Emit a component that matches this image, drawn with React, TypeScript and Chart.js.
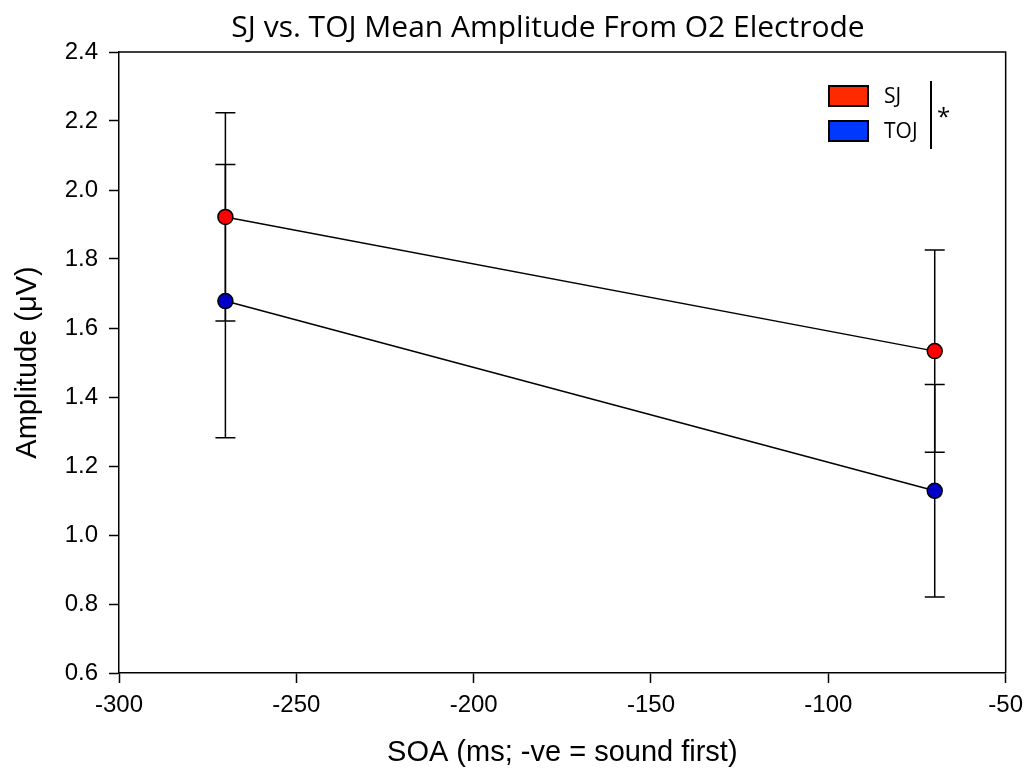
import React, { useEffect, useRef } from "react";
import { Chart, registerables } from "chart.js";

Chart.register(...registerables);

const chartTitle = "SJ vs. TOJ Mean Amplitude From O2 Electrode";
const xTitle = "SOA (ms; -ve = sound first)";
const yTitle = "Amplitude (\u03bcV)";
const seriesNames = ["SJ", "TOJ"];
const soa = [-270, -70];
const sjMean = [1.922, 1.533];
const sjErr = [0.302, 0.293];
const tojMean = [1.678, 1.128];
const tojErr = [0.396, 0.308];
const xTicks = [-300, -250, -200, -150, -100, -50];
const yTicks = [0.6, 0.8, 1.0, 1.2, 1.4, 1.6, 1.8, 2.0, 2.2, 2.4];
const significance = "*";

const markerColors = ["#ff0000", "#0000c8"];
const legendColors = ["#ff2a00", "#0038ff"];
const errors = [sjErr, tojErr];

const TITLE_FONT = "'Open Sans', 'Noto Sans', sans-serif";
const AXIS_FONT = "'Liberation Sans', Arial, sans-serif";

const errorBarPlugin = {
  id: "errorBars",
  beforeDatasetsDraw(chart: any) {
    const { ctx, scales } = chart;
    const xs = scales.x;
    const ys = scales.y;
    ctx.save();
    ctx.strokeStyle = "#000";
    ctx.lineWidth = 1.5;
    chart.data.datasets.forEach((ds: any, i: number) => {
      const err = errors[i];
      ds.data.forEach((p: any, j: number) => {
        const px = xs.getPixelForValue(p.x);
        const top = ys.getPixelForValue(p.y + err[j]);
        const bot = ys.getPixelForValue(p.y - err[j]);
        ctx.beginPath();
        ctx.moveTo(px, top);
        ctx.lineTo(px, bot);
        ctx.moveTo(px - 10, top);
        ctx.lineTo(px + 10, top);
        ctx.moveTo(px - 10, bot);
        ctx.lineTo(px + 10, bot);
        ctx.stroke();
      });
    });
    ctx.restore();
  },
};

const framePlugin = {
  id: "frameAndDecor",
  afterDraw(chart: any) {
    const { ctx, chartArea } = chart;
    const { left, right, top, bottom } = chartArea;
    ctx.save();
    ctx.strokeStyle = "#000";
    ctx.lineWidth = 1.5;
    ctx.beginPath();
    ctx.moveTo(left, top);
    ctx.lineTo(right, top);
    ctx.lineTo(right, bottom);
    ctx.stroke();

    ctx.fillStyle = "#000";
    ctx.font = `30px ${TITLE_FONT}`;
    ctx.textAlign = "center";
    ctx.textBaseline = "middle";
    ctx.fillText(chartTitle, 548, 28);

    const boxX = 829;
    const boxW = 39;
    const boxH = 20;
    const rows = [96, 131];
    ctx.font = `21px ${TITLE_FONT}`;
    ctx.textAlign = "left";
    seriesNames.forEach((name, i) => {
      const cy = rows[i];
      ctx.fillStyle = legendColors[i];
      ctx.fillRect(boxX, cy - boxH / 2, boxW, boxH);
      ctx.lineWidth = 2;
      ctx.strokeStyle = "#000";
      ctx.strokeRect(boxX, cy - boxH / 2, boxW, boxH);
      ctx.fillStyle = "#000";
      ctx.fillText(name, 884, cy + 1);
    });
    ctx.lineWidth = 2;
    ctx.beginPath();
    ctx.moveTo(931, 81);
    ctx.lineTo(931, 149);
    ctx.stroke();
    ctx.font = `24px ${TITLE_FONT}`;
    ctx.fillText(significance, 937, 118);
    ctx.restore();
  },
};

export default function App() {
  const canvasRef = useRef<HTMLCanvasElement | null>(null);

  useEffect(() => {
    document.body.style.margin = "0";
    const canvas = canvasRef.current;
    if (!canvas) return;
    const means = [sjMean, tojMean];
    const chart = new Chart(canvas, {
      type: "line",
      data: {
        datasets: seriesNames.map((name, i) => ({
          label: name,
          data: soa.map((x, j) => ({ x, y: means[i][j] })),
          borderColor: "#000",
          borderWidth: 1.5,
          pointBackgroundColor: markerColors[i],
          pointBorderColor: "#000",
          pointBorderWidth: 1.5,
          pointRadius: 7.5,
          pointHoverRadius: 7.5,
          tension: 0,
          fill: false,
        })),
      },
      options: {
        animation: false,
        responsive: false,
        maintainAspectRatio: false,
        events: [],
        layout: { padding: { top: 52, right: 24, left: 0, bottom: 0 } },
        plugins: {
          legend: { display: false },
          title: { display: false },
          tooltip: { enabled: false },
        },
        scales: {
          x: {
            type: "linear",
            min: -300,
            max: -50,
            afterFit: (s: any) => {
              s.height = 107;
            },
            afterBuildTicks: (s: any) => {
              s.ticks = xTicks.map((v) => ({ value: v }));
            },
            ticks: {
              color: "#000",
              font: { family: AXIS_FONT, size: 24 },
              padding: 8,
              maxRotation: 0,
              autoSkip: false,
            },
            grid: {
              drawOnChartArea: false,
              drawTicks: true,
              tickLength: 10,
              tickWidth: 1.5,
              tickColor: "#000",
            },
            border: { display: true, color: "#000", width: 1.5 },
            title: {
              display: true,
              text: xTitle,
              color: "#000",
              font: { family: AXIS_FONT, size: 29 },
              padding: { top: 0, bottom: 10 },
            },
          },
          y: {
            type: "linear",
            min: 0.6,
            max: 2.4,
            afterFit: (s: any) => {
              s.width = 119;
            },
            afterBuildTicks: (s: any) => {
              s.ticks = yTicks.map((v) => ({ value: v }));
            },
            ticks: {
              color: "#000",
              font: { family: AXIS_FONT, size: 24 },
              padding: 11,
              callback: (v: any) => Number(v).toFixed(1),
              autoSkip: false,
            },
            grid: {
              drawOnChartArea: false,
              drawTicks: true,
              tickLength: 10,
              tickWidth: 1.5,
              tickColor: "#000",
            },
            border: { display: true, color: "#000", width: 1.5 },
            title: {
              display: true,
              text: yTitle,
              color: "#000",
              font: { family: AXIS_FONT, size: 29 },
              padding: { top: 11, bottom: 0 },
            },
          },
        },
      },
      plugins: [errorBarPlugin, framePlugin],
    } as any);
    return () => chart.destroy();
  }, []);

  return (
    <div style={{ width: 1031, height: 780 }}>
      <canvas ref={canvasRef} width={1031} height={780} style={{ display: "block", width: 1031, height: 780 }} />
    </div>
  );
}
